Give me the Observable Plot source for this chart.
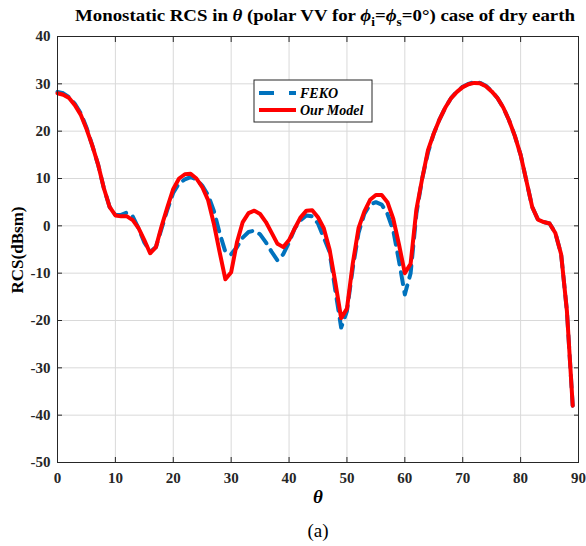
<!DOCTYPE html>
<html><head><meta charset="utf-8">
<script src="https://cdn.jsdelivr.net/npm/d3@7"></script>
<script src="https://cdn.jsdelivr.net/npm/@observablehq/plot@0.6"></script>
<style>
body{margin:0;background:#fff}
#chart{position:relative;width:586px;height:546px}
#chart svg{font-family:"Liberation Serif","Times New Roman",serif}
</style>
</head><body><div id="chart"></div>
<script>
const theta = [0,1,2,3,4,5,6,7,8,9,10,11,12,13,14,15,16,17,18,19,20,21,22,23,24,25,26,27,28,29,30,31,32,33,34,35,36,37,38,39,40,41,42,43,44,45,46,47,48,49,50,51,52,53,54,55,56,57,58,59,60,61,62,63,64,65,66,67,68,69,70,71,72,73,74,75,76,77,78,79,80,81,82,83,84,85,86,87,88,89];
const ourModel = [28,27.7,27,25.5,23.5,20.5,17,13,8,4,2.2,2,2,1.2,-0.5,-3,-5.8,-4.5,0,4,7.8,10,10.9,11,10,8.2,5.5,0.5,-5.5,-11.3,-9.8,-3.5,0.8,2.7,3.2,2.5,0.8,-1.5,-3.8,-4.5,-3,-0.5,1.8,3.2,3.3,1.8,-0.5,-5,-12,-19.5,-17.5,-8,-0.5,3,5.5,6.5,6.5,5,1.5,-4,-10,-8,3.5,10,16,19.5,22.5,25,27,28.3,29.3,29.9,30.2,30.1,29.5,28.4,27,25,22.3,19,15,9.5,4,1.3,0.8,0.5,-1.5,-6,-18,-38];
const feko = [28.3,28,27.2,25.8,23.8,20.8,17,13,8,4,2.3,2.3,2.8,2,-0.5,-3.5,-5.5,-4.5,-0.5,3.5,7,9,9.8,10.3,9.8,8.5,6.5,3.2,-1.5,-5.5,-6,-4.5,-2.5,-1.3,-1,-1.8,-3.5,-5.5,-7.3,-6,-3.5,-0.5,1.2,2.2,2,0.5,-2.5,-5.5,-13.7,-21.5,-18,-9,-1.5,2.5,4.5,5,4.5,2.5,-1,-7.5,-14.5,-10,2.6,10,15.5,19.5,22.5,25,27,28.4,29.4,30,30.4,30.2,29.6,28.5,27,25,22.3,19,15,9.5,4,1.3,0.8,0.5,-1.5,-6,-18,-38];
const xTicks = [0,10,20,30,40,50,60,70,80,90];
const yTicks = [-50,-40,-30,-20,-10,0,10,20,30,40];
const seriesNames = ["FEKO","Our Model"];
const colors = ["#0072BD","#FF0000"];

const fekoRows = theta.map((t,i)=>({theta:t, rcs:feko[i]}));
const modelRows = theta.map((t,i)=>({theta:t, rcs:ourModel[i]}));
const fmt = d => String(d);

const font = '"Liberation Serif","Times New Roman",serif';
const plot = Plot.plot({
  width:586, height:546,
  marginLeft:57, marginRight:8, marginTop:36, marginBottom:84,
  style:{fontFamily:font, fontSize:"15px", fontWeight:"bold", color:"#262626", background:"#fff"},
  x:{domain:[0,90], ticks:xTicks, label:null},
  y:{domain:[-50,40], ticks:yTicks, label:null},
  marks:[
    Plot.gridX(xTicks,{stroke:"#d9d9d9", strokeOpacity:1}),
    Plot.gridY(yTicks,{stroke:"#d9d9d9", strokeOpacity:1}),
    Plot.line(fekoRows,{x:"theta", y:"rcs", stroke:colors[0], strokeWidth:4, strokeDasharray:"12,8"}),
    Plot.line(modelRows,{x:"theta", y:"rcs", stroke:colors[1], strokeWidth:4}),
    Plot.frame({stroke:"#262626", strokeWidth:1}),
    Plot.axisX(xTicks,{anchor:"bottom", tickSize:0, tickPadding:10, tickFormat:fmt, fontWeight:"bold", fontSize:15, fill:"#262626"}),
    Plot.axisY(yTicks,{anchor:"left", tickSize:0, tickPadding:7, tickFormat:fmt, fontWeight:"bold", fontSize:15, fill:"#262626"}),
    Plot.axisX(xTicks,{anchor:"bottom", tickSize:-5, text:null, stroke:"#262626"}),
    Plot.axisX(xTicks,{anchor:"top", tickSize:-5, text:null, stroke:"#262626"}),
    Plot.axisY(yTicks,{anchor:"left", tickSize:-5, text:null, stroke:"#262626"}),
    Plot.axisY(yTicks,{anchor:"right", tickSize:-5, text:null, stroke:"#262626"})
  ]
});
document.getElementById("chart").appendChild(plot);

const svg = d3.select(plot);
// title
const t = svg.append("text").attr("x",325).attr("y",21).attr("text-anchor","middle")
  .attr("font-size",17).attr("font-weight","bold").attr("fill","#000")
  .attr("textLength",500).attr("lengthAdjust","spacingAndGlyphs");
t.append("tspan").text("Monostatic RCS in ");
t.append("tspan").attr("font-style","italic").text("θ");
t.append("tspan").text(" (polar VV for ");
t.append("tspan").attr("font-style","italic").text("ϕ");
t.append("tspan").attr("dy",5).attr("font-size",12).text("i");
t.append("tspan").attr("dy",-5).text("=");
t.append("tspan").attr("font-style","italic").text("ϕ");
t.append("tspan").attr("dy",5).attr("font-size",12).text("s");
t.append("tspan").attr("dy",-5).text("=0°) case of dry earth");

// axis labels
svg.append("text").attr("transform","translate(23,250) rotate(-90)").attr("text-anchor","middle")
  .attr("font-size",17).attr("font-weight","bold").attr("fill","#000").text("RCS(dBsm)");
svg.append("text").attr("x",318).attr("y",503).attr("text-anchor","middle")
  .attr("font-size",19).attr("font-weight","bold").attr("font-style","italic").attr("fill","#000").text("θ");
svg.append("text").attr("x",318).attr("y",537).attr("text-anchor","middle")
  .attr("font-size",19).attr("font-weight","normal").attr("fill","#000").text("(a)");

// legend
const lg = svg.append("g").attr("transform","translate(254,80)");
lg.append("rect").attr("width",118).attr("height",42).attr("fill","#fff").attr("stroke","#262626").attr("stroke-width",1);
seriesNames.forEach((name,i)=>{
  const y = 13 + i*17;
  lg.append("line").attr("x1",5).attr("x2",42).attr("y1",y).attr("y2",y)
    .attr("stroke",colors[i]).attr("stroke-width",4).attr("stroke-dasharray", i===0 ? "15,15" : null);
  lg.append("text").attr("x",46).attr("y",y+5).attr("text-anchor","start").attr("font-size",14).attr("font-weight","bold")
    .attr("font-style","italic").attr("fill","#000").text(name);
});
</script>
</body></html>
